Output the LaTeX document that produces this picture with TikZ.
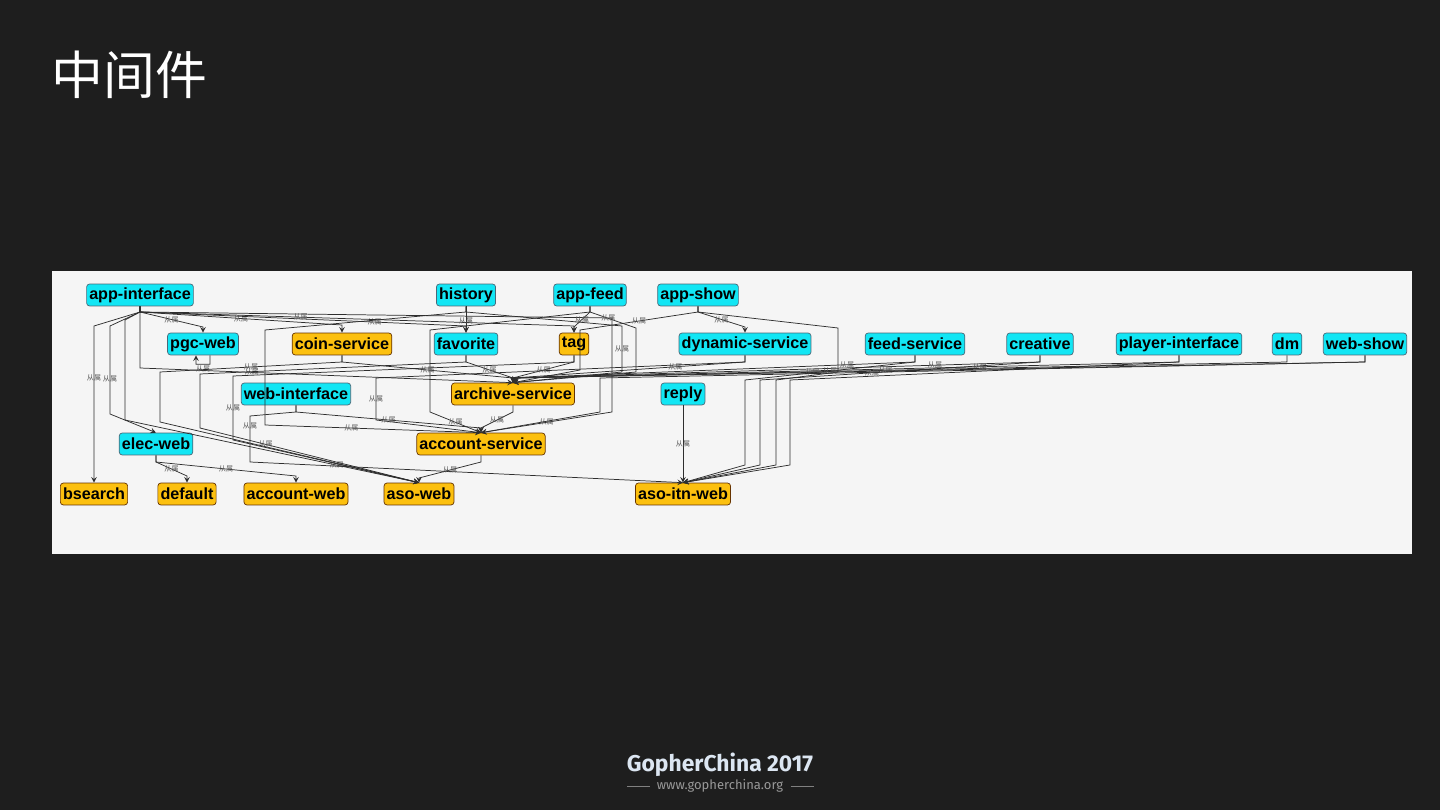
\documentclass[tikz,border=0pt]{standalone}
\usepackage{fontspec}
\setmainfont{Liberation Sans}
\newfontfamily\cjk{Noto Sans CJK SC}
\newfontfamily\gfont{Fira Sans}
\usetikzlibrary{arrows,positioning}

\definecolor{slidebg}{HTML}{1E1E1E}
\definecolor{panelbg}{HTML}{F5F5F5}
\definecolor{svccyan}{HTML}{12E6F4}
\definecolor{svcorange}{HTML}{FCC00F}
\definecolor{edgegray}{HTML}{2E2E2E}
\definecolor{footblue}{HTML}{DCE6F2}

\begin{document}
\begin{tikzpicture}[
    x=0.02cm, y=-0.02cm,
    every node/.style={font=\fontsize{9.2}{10}\selectfont\bfseries},
    box/.style={draw, rounded corners=1.7pt, line width=0.4pt, minimum height=12.5pt, inner xsep=1.5pt, inner ysep=0pt},
    cbox/.style={box, fill=svccyan, draw=cyan!40!black},
    obox/.style={box, fill=svcorange, draw=orange!40!black},
    arr/.style={->, >=stealth, draw=edgegray, line width=0.42pt},
    lbl/.style={font=\cjk\fontsize{4}{4.5}\selectfont, text=black!65, inner sep=0pt}
]

% Slide and panel
\useasboundingbox (0,0) rectangle (1440,810);
\fill[slidebg] (0,0) rectangle (1440,810);
\fill[panelbg] (52,271) rectangle (1412,554);

% Title
\node[font=\cjk\fontsize{29.5}{30}\selectfont, text=white, anchor=west, inner sep=0pt] (title) at (51,75) {中间件};

% Row 1
\node[cbox] (ai)    at (140,295) {app-interface};
\node[cbox] (hist)  at (466,295) {history};
\node[cbox] (afeed) at (590,295) {app-feed};
\node[cbox] (ashow) at (698,295) {app-show};

% Row 2
\node[cbox] (pgc)    at (203,344)  {pgc-web};
\node[obox] (coin)   at (342,344)  {coin-service};
\node[cbox] (fav)    at (466,344)  {favorite};
\node[obox] (tag)    at (574,344)  {tag};
\node[cbox] (dyn)    at (745,344)  {dynamic-service};
\node[cbox] (feed)   at (915,344)  {feed-service};
\node[cbox] (creat)  at (1040,344) {creative};
\node[cbox] (player) at (1179,344) {player-interface};
\node[cbox] (dm)     at (1287,344) {dm};
\node[cbox] (wshow)  at (1365,344) {web-show};

% Row 3
\node[cbox] (wif)   at (296,394) {web-interface};
\node[obox] (arch)  at (513,394) {archive-service};
\node[cbox] (reply) at (683,394) {reply};

% Row 4
\node[cbox] (elec) at (156,444) {elec-web};
\node[obox] (acct) at (481,444) {account-service};

% Row 5
\node[obox] (bsearch) at (94,494)  {bsearch};
\node[obox] (dflt)    at (187,494) {default};
\node[obox] (acweb)   at (296,494) {account-web};
\node[obox] (aso)     at (419,494) {aso-web};
\node[obox] (asoitn)  at (683,494) {aso-itn-web};

% app-interface
\draw[arr] (ai.south) -- (140,312) -- node[lbl]{从属} (203,327) -- (pgc.north);
\draw[arr] (ai.south) -- (140,312) -- node[lbl]{从属} (342,325) -- (coin.north);
\draw[arr] (ai.south) -- (140,312) -- node[lbl,pos=0.72]{从属} (466,326) -- (fav.north);
\draw[arr] (ai.south) -- (140,312) -- node[lbl,pos=0.37]{从属} (574,326) -- (tag.north);
\draw[arr] (ai.south) -- (140,312) -- (94,326) -- node[lbl,pos=0.33]{从属} (bsearch.north);
\draw[arr] (ai.south) -- (140,312) -- (110,326) -- node[lbl,pos=0.6]{从属} (110,414) -- (elec.north);
\draw[arr] (ai.south) -- (140,312) -- (125,320) -- (125,420) -- node[lbl,pos=0.72]{从属} (aso.north);
\draw[arr] (ai.south) -- (140,312) -- (140,368) -- node[lbl,pos=0.3]{从属} (arch.north);
\draw[arr] (ai.south) -- (140,312) -- (612,318) -- (612,412) -- node[lbl]{从属} (acct.north);

% history
\draw[arr] (hist.south) -- node[lbl,pos=0.55]{从属} (fav.north);
\draw[arr] (hist.south) -- (466,312) -- (265,330) -- (265,425) -- node[lbl,pos=0.4]{从属} (acct.north);
\draw[arr] (hist.south) -- (466,312) -- (622,326) -- node[lbl]{从属} (622,372) -- (arch.north);

% app-feed
\draw[arr] (afeed.south) -- (590,312) -- node[lbl]{从属} (574,327) -- (tag.north);
\draw[arr] (afeed.south) -- (590,312) -- (430,330) -- (430,412) -- node[lbl]{从属} (acct.north);
\draw[arr] (afeed.south) -- (590,312) -- node[lbl,pos=0.4]{从属} (636,328) -- (636,372) -- (arch.north);

% app-show
\draw[arr] (ashow.south) -- (698,312) -- node[lbl]{从属} (745,327) -- (dyn.north);
\draw[arr] (ashow.south) -- (698,312) -- node[lbl]{从属} (580,330) -- (580,370) -- (arch.north);
\draw[arr] (ashow.south) -- (698,312) -- (838,328) -- (838,372) -- (776,380) -- (776,465) -- (asoitn.north);

% pgc-web (self)
\draw[arr] ([xshift=4pt]pgc.south) -- ++(0,9) -- node[lbl,below=0.4pt]{从属} ++(-14,0) -- ([xshift=-4pt]pgc.south);

% coin-service
\draw[arr] (coin.south) -- (342,362) -- node[lbl]{从属} (513,378) -- (arch.north);
\draw[arr] (coin.south) -- (342,362) -- node[lbl]{从属} (160,372) -- (160,422) -- (aso.north);

% favorite
\draw[arr] (fav.south) -- (466,362) -- node[lbl]{从属} (513,378) -- (arch.north);
\draw[arr] (fav.south) -- (466,362) -- (200,374) -- (200,428) -- node[lbl,pos=0.3]{从属} (aso.north);

% tag
\draw[arr] (tag.south) -- (574,362) -- node[lbl]{从属} (513,378) -- (arch.north);
\draw[arr] (tag.south) -- (574,362) -- (233,376) -- node[lbl]{从属} (233,440) -- (aso.north);

% dynamic-service
\draw[arr] (dyn.south) -- (745,362) -- node[lbl,pos=0.3]{从属} (513,378) -- (arch.north);
\draw[arr] (dyn.south) -- (745,362) -- (376,378) -- node[lbl]{从属} (376,420) -- (acct.north);

% right-hand services
\draw[arr] (feed.south)   -- (915,362)  -- node[lbl,pos=0.17]{从属} (515,378) -- (arch.north);
\draw[arr] (creat.south)  -- (1040,362) -- node[lbl,pos=0.2]{从属} (515,378) -- (arch.north);
\draw[arr] (player.south) -- (1179,362) -- node[lbl,pos=0.3]{从属} (515,378) -- (arch.north);
\draw[arr] (dm.south)     -- (1287,362) -- node[lbl,pos=0.52]{从属} (515,378) -- (arch.north);
\draw[arr] (wshow.south)  -- (1365,362) -- node[lbl,pos=0.65]{从属} (515,378) -- (arch.north);
\draw[arr] (feed.south)   -- (915,362)  -- node[lbl,pos=0.5]{从属} (745,380) -- (745,465) -- (asoitn.north);
\draw[arr] (creat.south)  -- (1040,362) -- node[lbl,pos=0.6]{从属} (760,380) -- (760,465) -- (asoitn.north);
\draw[arr] (player.south) -- (1179,362) -- (790,380) -- (790,465) -- (asoitn.north);
\draw[arr] (wshow.south)  -- (1365,362) -- (600,378) -- (600,412) -- (acct.north);

% web-interface
\draw[arr] (wif.south) -- (296,412) -- node[lbl]{从属} (481,428) -- (acct.north);
\draw[arr] (wif.south) -- (296,412) -- (250,416) -- node[lbl,pos=0.22]{从属} (250,462) -- (asoitn.north);

% archive-service, reply
\draw[arr] (arch.south) -- (513,412) -- node[lbl]{从属} (481,428) -- (acct.north);
\draw[arr] (reply.south) -- node[lbl]{从属} (asoitn.north);

% elec-web
\draw[arr] (elec.south) -- (156,462) -- node[lbl]{从属} (187,476) -- (dflt.north);
\draw[arr] (elec.south) -- (156,462) -- node[lbl]{从属} (296,476) -- (acweb.north);

% account-service
\draw[arr] (acct.south) -- (481,462) -- node[lbl]{从属} (419,478) -- (aso.north);

% Footer
\node[font=\gfont\bfseries\fontsize{13}{14}\selectfont, text=footblue] (brand) at (720,765) {GopherChina 2017};
\node[font=\gfont\fontsize{7.4}{8}\selectfont, text=black!40, inner sep=0pt] (site) at (720,786) {www.gopherchina.org};
\draw[black!50, line width=0.4pt] ([xshift=-4pt]site.west) -- ++(-23,0);
\draw[black!50, line width=0.4pt] ([xshift=4pt]site.east) -- ++(23,0);

\end{tikzpicture}
\end{document}
